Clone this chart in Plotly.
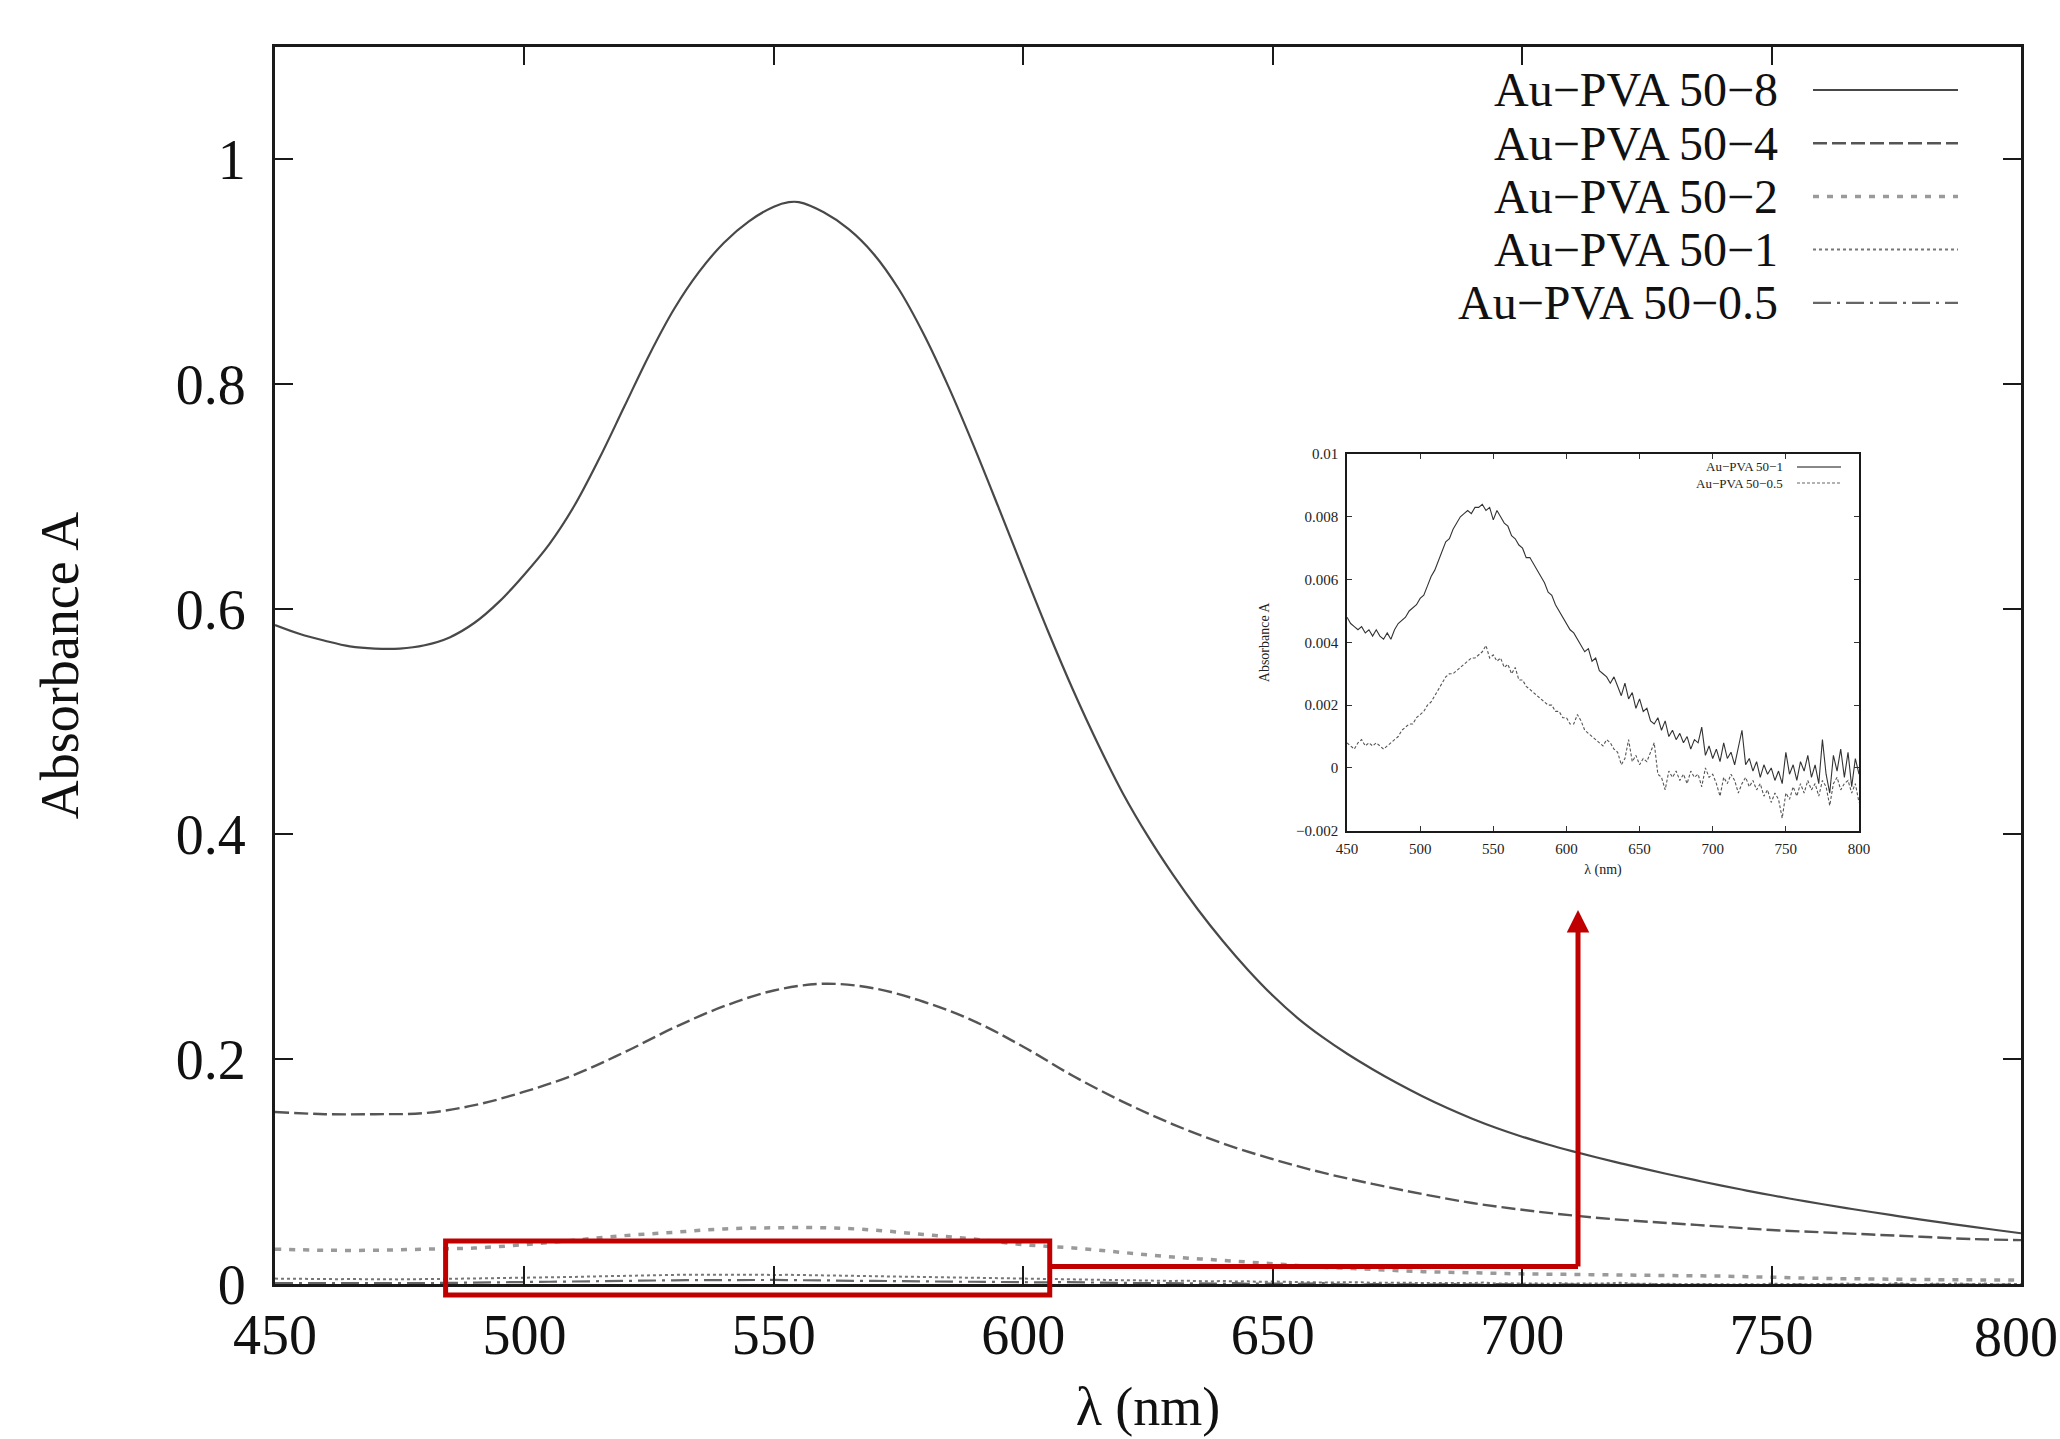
import plotly.graph_objects as go

# ---------------- data ----------------
wl_50_8 = [450, 455, 460, 465, 470, 475, 480, 485, 490, 495, 500, 505, 510, 515, 520, 525, 530, 535,
           540, 545, 550, 553, 555, 560, 565, 570, 575, 580, 585, 590, 595, 600, 605, 610, 615, 620,
           625, 630, 635, 640, 645, 650, 655, 660, 665, 670, 675, 680, 685, 690, 695, 700, 705, 710,
           715, 720, 725, 730, 735, 740, 745, 750, 755, 760, 765, 770, 775, 780, 785, 790, 795, 800]
A_50_8 = [0.586, 0.578, 0.572, 0.567, 0.565, 0.565, 0.568, 0.575, 0.588, 0.607, 0.631, 0.658, 0.692,
          0.734, 0.780, 0.826, 0.867, 0.900, 0.926, 0.945, 0.958, 0.962, 0.962, 0.953, 0.938, 0.916,
          0.885, 0.845, 0.798, 0.746, 0.691, 0.635, 0.580, 0.528, 0.480, 0.436, 0.398, 0.364, 0.333,
          0.305, 0.2795, 0.2565, 0.2365, 0.2195, 0.2045, 0.1910, 0.1785, 0.1670, 0.1565, 0.1470,
          0.1385, 0.1310, 0.1243, 0.1182, 0.1125, 0.1071, 0.1019, 0.0969, 0.0921, 0.0875, 0.0831,
          0.0789, 0.0749, 0.0711, 0.0675, 0.0640, 0.0606, 0.0573, 0.0541, 0.0510, 0.0480, 0.0451]

wl_10 = [450, 460, 470, 480, 490, 500, 510, 520, 530, 540, 550, 560, 570, 580, 590, 600, 610, 620,
         630, 640, 650, 660, 670, 680, 690, 700, 710, 720, 730, 740, 750, 760, 770, 780, 790, 800]
A_50_4 = [0.153, 0.151, 0.151, 0.152, 0.159, 0.171, 0.186, 0.206, 0.228, 0.247, 0.261, 0.267, 0.263,
          0.251, 0.234, 0.211, 0.185, 0.162, 0.142, 0.125, 0.111, 0.099, 0.089, 0.080, 0.072, 0.066,
          0.061, 0.057, 0.054, 0.051, 0.048, 0.046, 0.044, 0.042, 0.040, 0.039]
A_50_2 = [0.031, 0.030, 0.030, 0.031, 0.032, 0.035, 0.039, 0.043, 0.046, 0.049, 0.050, 0.050, 0.048,
          0.044, 0.040, 0.035, 0.032, 0.028, 0.024, 0.021, 0.018, 0.015, 0.013, 0.011, 0.010, 0.009,
          0.0085, 0.008, 0.0075, 0.007, 0.006, 0.005, 0.0045, 0.004, 0.0037, 0.0035]

# fine spectra of the two most dilute samples, absorbance in units of 1e-4
wl_fine = [450.0, 452.5, 455.0, 457.5, 460.0, 462.5, 465.0, 467.5, 470.0, 472.5, 475.0, 477.5,
           480.0, 482.5, 485.0, 487.5, 490.0, 492.5, 495.0, 497.5, 500.0, 502.5, 505.0, 507.5,
           510.0, 512.5, 515.0, 517.5, 520.0, 522.5, 525.0, 527.5, 530.0, 532.5, 535.0, 537.5,
           540.0, 542.5, 545.0, 547.5, 550.0, 552.5, 555.0, 557.5, 560.0, 562.5, 565.0, 567.5,
           570.0, 572.5, 575.0, 577.5, 580.0, 582.5, 585.0, 587.5, 590.0, 592.5, 595.0, 597.5,
           600.0, 602.5, 605.0, 607.5, 610.0, 612.5, 615.0, 617.5, 620.0, 622.5, 625.0, 627.5,
           630.0, 632.5, 635.0, 637.5, 640.0, 642.5, 645.0, 647.5, 650.0, 652.5, 655.0, 657.5,
           660.0, 662.5, 665.0, 667.5, 670.0, 672.5, 675.0, 677.5, 680.0, 682.5, 685.0, 687.5,
           690.0, 692.5, 695.0, 697.5, 700.0, 702.5, 705.0, 707.5, 710.0, 712.5, 715.0, 717.5,
           720.0, 722.5, 725.0, 727.5, 730.0, 732.5, 735.0, 737.5, 740.0, 742.5, 745.0, 747.5,
           750.0, 752.5, 755.0, 757.5, 760.0, 762.5, 765.0, 767.5, 770.0, 772.5, 775.0, 777.5,
           780.0, 782.5, 785.0, 787.5, 790.0, 792.5, 795.0, 797.5, 800.0]
A_50_1_e4 = [48, 46, 45, 44, 45, 43, 44, 42, 44, 42, 41, 43,
             41, 44, 46, 47, 48, 50, 51, 52, 54, 55, 58, 61, 63, 66, 69, 72, 73, 76, 78, 80,
             81, 82, 81, 83, 83, 84, 82, 83, 79, 82, 80, 78, 77, 74, 73, 71, 70, 67, 67, 65,
             63, 61, 59, 56, 55, 52, 50, 48, 46, 44, 43, 41, 39, 37, 38, 34, 35, 31, 30, 29,
             27, 29, 26, 23, 27, 22, 24, 19, 22, 18, 19, 15, 14, 16, 12, 15, 10, 12, 9, 11,
             8, 10, 6, 9, 8, 13, 4, 7, 3, 6, 2, 8, 3, 5, 1, 6, 12, 1, 3, -1,
             2, -3, 1, -2, 0, -4, -1, -5, 5, -2, 1, -4, 2, -1, 4, -3, 1, -5, 9, -2,
             -8, 4, -1, 6, -3, 5, -6, 3, -2]
A_50_05_e4 = [8, 7, 6, 8, 9, 7, 8, 7, 8, 7, 6, 7,
              8, 9, 10, 12, 13, 14, 14, 16, 17, 18, 20, 21, 23, 25, 27, 29, 30, 30, 31, 32,
              33, 34, 35, 35, 36, 37, 39, 35, 36, 34, 35, 32, 33, 30, 32, 28, 28, 26, 25, 24,
              23, 22, 21, 20, 20, 18, 18, 16, 16, 14, 14, 17, 15, 12, 11, 10, 9, 8, 7, 9,
              8, 6, 5, 1, 3, 9, 2, 4, 1, 3, 2, 5, 8, -2, -3, -7, -1, -3, -1, -4,
              -2, -5, -1, -3, -2, -6, 0, -3, -2, -5, -9, -3, -5, -2, -4, -8, -5, -3, -6, -4,
              -7, -5, -9, -7, -11, -8, -10, -16, -8, -10, -6, -9, -5, -8, -4, -7, -5, -9, -4, -6,
              -12, -5, -3, -7, -5, -4, -8, -5, -11]
A_50_1 = [v * 1e-4 for v in A_50_1_e4]
A_50_05 = [v * 1e-4 for v in A_50_05_e4]

names = ["Au\u2212PVA 50\u22128", "Au\u2212PVA 50\u22124", "Au\u2212PVA 50\u22122",
         "Au\u2212PVA 50\u22121", "Au\u2212PVA 50\u22120.5"]
x_ticks = [450, 500, 550, 600, 650, 700, 750, 800]
x_tick_text = ["450", "500", "550", "600", "650", "700", "750", "800"]
y_ticks = [0, 0.2, 0.4, 0.6, 0.8, 1]
inset_y_ticks = [-0.002, 0, 0.002, 0.004, 0.006, 0.008, 0.01]

# ---------------- styles ----------------
FONT = "Liberation Serif, Times New Roman, serif"
styles = [
    dict(color="#484848", width=2.2, dash="solid"),
    dict(color="#555555", width=2.4, dash="14px,5px"),
    dict(color="#9a9a9a", width=3.5, dash="6px,8px"),
    dict(color="#777777", width=2.0, dash="3px,3px"),
    dict(color="#666666", width=2.2, dash="18px,6px,3px,6px"),
]
series = [(wl_50_8, A_50_8), (wl_10, A_50_4), (wl_10, A_50_2), (wl_fine, A_50_1), (wl_fine, A_50_05)]

fig = go.Figure()
for (xs, ys), nm, st in zip(series, names, styles):
    fig.add_trace(go.Scatter(x=xs, y=ys, mode="lines", name=nm, line=st,
                             line_shape="spline" if xs is not wl_fine else "linear",
                             showlegend=False, xaxis="x", yaxis="y"))

# inset traces
fig.add_trace(go.Scatter(x=wl_fine, y=A_50_1, mode="lines", name=names[3],
                         line=dict(color="#333333", width=1.1), showlegend=False,
                         xaxis="x2", yaxis="y2"))
fig.add_trace(go.Scatter(x=wl_fine, y=A_50_05, mode="lines", name=names[4],
                         line=dict(color="#555555", width=1.1, dash="3px,2px"), showlegend=False,
                         xaxis="x2", yaxis="y2"))

W, H = 2060, 1439
L, R, T, B = 275, 39, 47, 155
PW, PH = W - L - R, H - T - B


def px_x(p):
    return (p - L) / PW


def px_y(p):
    return (H - B - p) / PH


axis_common = dict(showline=True, linecolor="#1a1a1a", mirror="allticks", ticks="inside",
                   showgrid=False, zeroline=False)

fig.update_layout(
    width=W, height=H,
    margin=dict(l=L, r=R, t=T, b=B, pad=0),
    paper_bgcolor="white", plot_bgcolor="white",
    font=dict(family=FONT, color="#111111"),
    xaxis=dict(domain=[0, 1], range=[450, 800], tickvals=x_ticks,
               # the last label sits on the page edge; it is drawn below so it stays inside the page
               ticktext=x_tick_text[:-1] + [""],
               ticklen=18, tickwidth=2,
               linewidth=3, tickcolor="#1a1a1a", tickfont=dict(size=56, family=FONT),
               ticklabelstandoff=0,
               title=dict(text="\u03bb (nm)", font=dict(size=54, family=FONT), standoff=22),
               **axis_common),
    yaxis=dict(domain=[0, 1], range=[0, 1.1], tickvals=y_ticks, ticklen=18, tickwidth=2,
               linewidth=3, tickcolor="#1a1a1a", tickfont=dict(size=56, family=FONT),
               ticklabelstandoff=15,
               title=dict(text="Absorbance A", font=dict(size=54, family=FONT), standoff=80),
               **axis_common),
    xaxis2=dict(domain=[px_x(1347), px_x(1859)], anchor="y2", range=[450, 800], tickvals=x_ticks,
                ticklen=5, tickwidth=1, linewidth=1.5, tickcolor="#333",
                tickfont=dict(size=15, family=FONT, color="#222"), ticklabelstandoff=4,
                title=dict(text="\u03bb (nm)", font=dict(size=14, family=FONT, color="#222"), standoff=8),
                **axis_common),
    yaxis2=dict(domain=[px_y(830.7), px_y(454)], anchor="x2", range=[-0.002, 0.01],
                tickvals=inset_y_ticks, ticklen=5, tickwidth=1, linewidth=1.5, tickcolor="#333",
                tickfont=dict(size=15, family=FONT, color="#222"), ticklabelstandoff=4,
                title=dict(text="Absorbance A", font=dict(size=14, family=FONT, color="#222"), standoff=23),
                **axis_common),
)

shapes = []
annotations = []

# last x tick label, right-aligned on the page edge
annotations.append(dict(x=px_x(W), y=px_y(1337), xref="paper", yref="paper", text=x_tick_text[-1],
                        showarrow=False, xanchor="right", yanchor="middle",
                        font=dict(size=56, family=FONT, color="#111")))

# main legend (text right-aligned, sample line to the right, as in the reference)
leg_rows = [90, 143.2, 196.4, 249.6, 302.8]
for nm, st, yy in zip(names, styles, leg_rows):
    annotations.append(dict(x=px_x(1780), y=px_y(yy), xref="paper", yref="paper", text=nm,
                            showarrow=False, xanchor="right", yanchor="middle",
                            font=dict(size=48, family=FONT, color="#111")))
    shapes.append(dict(type="line", xref="paper", yref="paper", x0=px_x(1813), x1=px_x(1958),
                       y0=px_y(yy), y1=px_y(yy), line=dict(color=st["color"], width=st["width"],
                                                           dash=st["dash"])))

# inset legend
inset_leg = [(names[3], dict(color="#888888", width=2, dash="solid"), 467),
             (names[4], dict(color="#666666", width=1.2, dash="3px,2px"), 483)]
for nm, ln, yy in inset_leg:
    annotations.append(dict(x=px_x(1785), y=px_y(yy), xref="paper", yref="paper", text=nm,
                            showarrow=False, xanchor="right", yanchor="middle",
                            font=dict(size=13, family=FONT, color="#222")))
    shapes.append(dict(type="line", xref="paper", yref="paper", x0=px_x(1797), x1=px_x(1841),
                       y0=px_y(yy), y1=px_y(yy), line=ln))

# red zoom box and arrow
RED = "#c00000"
box_x = [484.2, 605.3]
shapes.append(dict(type="rect", xref="x", yref="paper", x0=box_x[0], x1=box_x[1],
                   y0=px_y(1295), y1=px_y(1241), line=dict(color=RED, width=5), layer="above"))
shapes.append(dict(type="line", xref="x", yref="paper", x0=box_x[1], x1=711.2,
                   y0=px_y(1266.5), y1=px_y(1266.5), line=dict(color=RED, width=5), layer="above"))
annotations.append(dict(x=711.2, y=px_y(910), xref="x", yref="paper", text="", showarrow=True,
                        ax=0, ay=1268 - 910, axref="pixel", ayref="pixel",
                        arrowhead=2, arrowsize=0.9, arrowwidth=5, arrowcolor=RED, standoff=0))

fig.update_layout(shapes=shapes, annotations=annotations)
fig.write_html(
    "out.html",
    config={"displayModeBar": False},
    post_script=(
        "document.body.style.margin='0';document.body.style.padding='0';"
        "document.documentElement.style.overflow='hidden';document.body.style.overflow='hidden';"
    ),
)
